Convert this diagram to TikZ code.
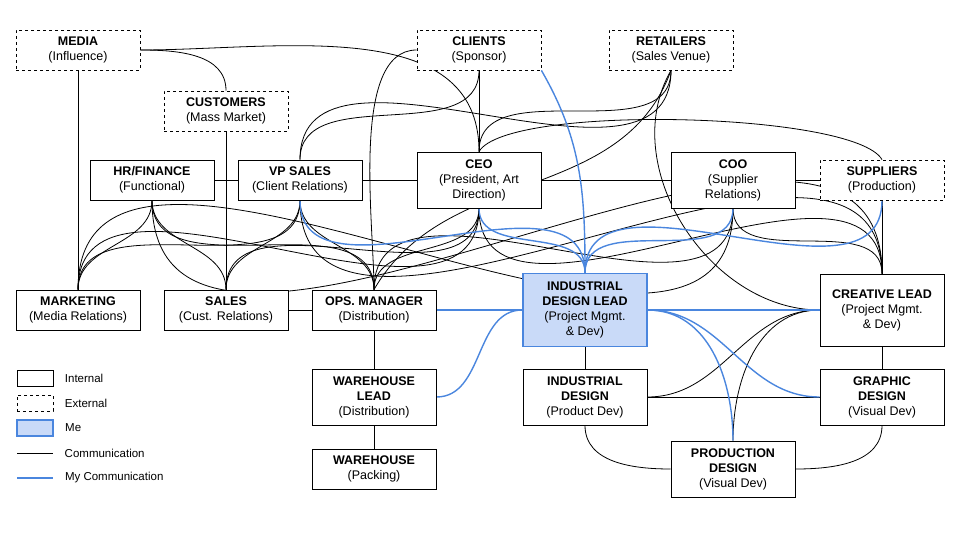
\documentclass[tikz,border=0pt]{standalone}
\usepackage{fontspec}
\setmainfont{Liberation Sans}
\usetikzlibrary{positioning}
\definecolor{meblue}{RGB}{74,134,222}
\definecolor{mefill}{RGB}{201,218,248}
\pgfdeclarelayer{background}
\pgfsetlayers{background,main}
\tikzset{
  box/.style={draw, thick, fill=white, align=center, font=\fontsize{12.5}{15}\selectfont, inner sep=2pt},
  int/.style={box, minimum width=124pt, minimum height=40pt},
  ext/.style={int, dashed},
  tall/.style={int, minimum height=56pt},
  me/.style={tall, minimum height=73pt, draw=meblue, fill=mefill, line width=1.3pt},
  com/.style={black, line width=0.8pt},
  mycom/.style={meblue, line width=1.4pt},
  dn/.style={out=-90, in=90},
}
\begin{document}
\begin{tikzpicture}[x=1pt,y=-1pt]
\useasboundingbox (0,0) rectangle (960,540);
% top row
\node[ext] (media) at (78,50) {\textbf{MEDIA}\\(Influence)};
\node[ext] (cust) at (226,111) {\textbf{CUSTOMERS}\\(Mass Market)};
\node[ext] (clients) at (479,50) {\textbf{CLIENTS}\\(Sponsor)};
\node[ext] (retail) at (671,50) {\textbf{RETAILERS}\\(Sales Venue)};
% management
\node[int] (hr) at (152,180) {\textbf{HR/FINANCE}\\(Functional)};
\node[int] (vp) at (300,180) {\textbf{VP SALES}\\(Client Relations)};
\node[tall] (ceo) at (479,180) {\textbf{CEO}\\(President, Art\\Direction)};
\node[tall] (coo) at (733,180) {\textbf{COO}\\(Supplier\\Relations)};
\node[ext] (supp) at (882,180) {\textbf{SUPPLIERS}\\(Production)};
% leads
\node[int] (mkt) at (78,310) {\textbf{MARKETING}\\(Media Relations)};
\node[int] (sales) at (226,310) {\textbf{SALES}\\(Cust. Relations)};
\node[int] (ops) at (374,310) {\textbf{OPS. MANAGER}\\(Distribution)};
\node[me] (idl) at (585,310) {\textbf{INDUSTRIAL}\\\textbf{DESIGN LEAD}\\(Project Mgmt.\\\& Dev)};
\node[tall,minimum height=72pt] (cl) at (882,310) {\textbf{CREATIVE LEAD}\\(Project Mgmt.\\\& Dev)};
% staff
\node[tall] (wl) at (374,397) {\textbf{WAREHOUSE}\\\textbf{LEAD}\\(Distribution)};
\node[int] (wh) at (374,469) {\textbf{WAREHOUSE}\\(Packing)};
\node[tall] (id) at (585,397) {\textbf{INDUSTRIAL}\\\textbf{DESIGN}\\(Product Dev)};
\node[tall] (gd) at (882,397) {\textbf{GRAPHIC}\\\textbf{DESIGN}\\(Visual Dev)};
\node[tall] (pd) at (733,469) {\textbf{PRODUCTION}\\\textbf{DESIGN}\\(Visual Dev)};

\begin{pgfonlayer}{background}
% straight links
\draw[com] (hr) -- (vp) (vp) -- (ceo) (ceo) -- (coo) (coo) -- (supp);
\draw[com] (sales) -- (ops) (ops) -- (wl) (wl) -- (wh);
\draw[com] (media) -- (mkt) (cust) -- (sales) (supp) -- (cl) (cl) -- (gd) (idl) -- (id);
% external links
\draw[com] (media.east) to[out=0, in=90] (cust.north);
\draw[com] (media.east) to[out=0, in=90] (ceo.north);
\draw[com] (clients.south) to[dn] (vp.north);
\draw[com] (clients.south) -- (ceo.north);
\draw[com] (clients.west) to[out=180, in=90, looseness=0.7] (ops.north);
\draw[com] (retail.south) to[dn] (vp.north);
\draw[com] (retail.south) to[dn] (ceo.north);
\draw[com] (ceo.north) to[out=60, in=120, looseness=0.35] (supp.north);
\draw[com] (retail.south) to[out=-120, in=180] (cl.west);
\draw[com] (ops.north) to[out=60, in=-110] (retail.south);
% management to leads
\foreach \a in {hr,vp,ceo}
  \foreach \b in {mkt,sales,ops,cl}
    \draw[com] (\a.south) to[dn] (\b.north);
\foreach \b in {mkt,ops,cl}
  \draw[com] (coo.south) to[dn] (\b.north);
% design team
\draw[com] (cl.west) to[out=180, in=0] (id.east);
\draw[com] (cl.west) to[out=180, in=90] (pd.north);
\draw[com] (id.east) -- (gd.west);
\draw[com] (id.south) to[out=-90, in=180] (pd.west);
\draw[com] (gd.south) to[out=-90, in=0] (pd.east);
% my communication
\foreach \a in {vp,ceo,coo,supp}
  \draw[mycom] (\a.south) to[dn] (idl.north);
\draw[mycom] (clients.south east) to[out=-60, in=90] (idl.north);
\draw[mycom] (ops) -- (idl) (idl) -- (cl);
\draw[mycom] (wl.east) to[out=0, in=180] (idl.west);
\draw[mycom] (idl.east) to[out=0, in=180] (gd.west);
\draw[mycom] (idl.east) to[out=0, in=90] (pd.north);
\end{pgfonlayer}

% legend
\node[draw,thick,minimum width=36pt,minimum height=16pt] (lint) at (35,378) {};
\node[right=8pt of lint,font=\fontsize{11.5}{13}\selectfont] {Internal};
\node[draw,thick,dashed,minimum width=36pt,minimum height=16pt] (lext) at (35,403) {};
\node[right=8pt of lext,font=\fontsize{11.5}{13}\selectfont] {External};
\node[draw=meblue,fill=mefill,line width=1.3pt,minimum width=36pt,minimum height=16pt] (lme) at (35,428) {};
\node[right=8pt of lme,font=\fontsize{11.5}{13}\selectfont] {Me};
\coordinate (lc1) at (17,453); \coordinate (lc2) at (53,453);
\draw[com] (lc1) -- (lc2) node[right=8pt,font=\fontsize{11.5}{13}\selectfont,black] {Communication};
\coordinate (lm1) at (17,478); \coordinate (lm2) at (53,478);
\draw[mycom] (lm1) -- (lm2) node[right=8pt,font=\fontsize{11.5}{13}\selectfont,black] {My Communication};
\end{tikzpicture}
\end{document}
